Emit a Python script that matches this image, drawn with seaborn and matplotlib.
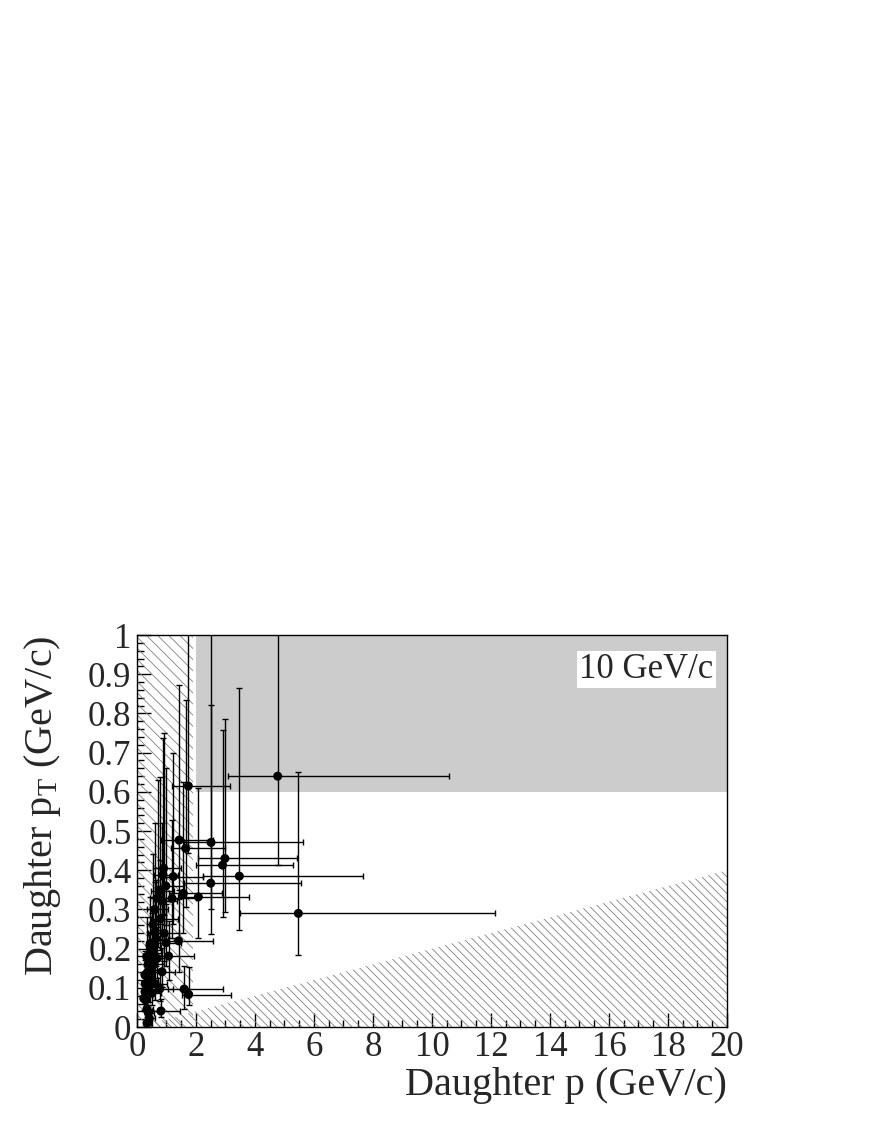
import matplotlib
matplotlib.use("Agg")
import matplotlib.pyplot as plt
import seaborn as sns
import pandas as pd

# daughter momentum p and transverse momentum pT (GeV/c), with asymmetric errors
p = [4.77, 1.74, 5.47, 3.47, 2.98, 2.90, 2.51, 2.50, 2.08, 1.43,
     1.65, 1.23, 0.90, 0.88, 0.98, 0.77, 1.57, 1.19, 0.85, 0.79,
     0.61, 0.92, 1.41, 0.98, 0.50, 1.07, 0.69, 0.50, 0.85, 0.27,
     1.60, 1.75, 0.77, 0.50, 0.27, 0.29, 0.81, 0.38, 0.34, 0.42,
     0.45, 0.52, 0.40, 0.36, 0.28, 0.40, 0.23, 0.34, 0.60, 0.55,
     0.70, 0.65, 0.47, 0.58, 0.33, 0.62]
pt = [0.640, 0.615, 0.290, 0.385, 0.430, 0.413, 0.471, 0.367, 0.332, 0.477,
      0.456, 0.384, 0.405, 0.388, 0.360, 0.348, 0.341, 0.328, 0.321, 0.276,
      0.241, 0.239, 0.220, 0.215, 0.205, 0.181, 0.175, 0.145, 0.141, 0.133,
      0.097, 0.083, 0.097, 0.086, 0.090, 0.069, 0.041, 0.037, 0.010, 0.022,
      0.213, 0.190, 0.162, 0.140, 0.111, 0.095, 0.073, 0.045, 0.300, 0.262,
      0.330, 0.225, 0.120, 0.160, 0.180, 0.110]
p_lo = [1.70, 0.54, 1.97, 1.23, 0.92, 0.90, 0.90, 0.90, 0.70, 0.60,
        0.50, 0.40, 0.35, 0.30, 0.35, 0.30, 0.50, 0.45, 0.30, 0.30,
        0.25, 0.30, 0.50, 0.30, 0.20, 0.40, 0.25, 0.20, 0.30, 0.10,
        0.55, 0.24, 0.25, 0.20, 0.10, 0.10, 0.30, 0.12, 0.10, 0.12,
        0.15, 0.20, 0.15, 0.12, 0.10, 0.15, 0.08, 0.12, 0.25, 0.20,
        0.25, 0.25, 0.15, 0.20, 0.12, 0.22]
p_hi = [5.82, 1.41, 6.67, 4.20, 2.43, 2.40, 3.11, 3.05, 1.72, 1.15,
        1.35, 1.02, 0.60, 0.50, 0.60, 0.50, 1.30, 0.80, 0.50, 0.60,
        0.40, 0.50, 1.18, 0.50, 0.30, 0.86, 0.40, 0.30, 0.45, 0.15,
        1.33, 1.44, 0.45, 0.30, 0.15, 0.15, 0.65, 0.20, 0.15, 0.20,
        0.25, 0.30, 0.25, 0.20, 0.15, 0.25, 0.12, 0.20, 0.45, 0.35,
        0.45, 0.40, 0.25, 0.35, 0.20, 0.40]
pt_lo = [0.227, 0.170, 0.105, 0.138, 0.136, 0.132, 0.170, 0.130, 0.104, 0.150,
         0.150, 0.120, 0.120, 0.100, 0.100, 0.100, 0.100, 0.100, 0.100, 0.080,
         0.070, 0.070, 0.080, 0.060, 0.060, 0.060, 0.050, 0.040, 0.040, 0.040,
         0.050, 0.027, 0.030, 0.030, 0.030, 0.020, 0.015, 0.015, 0.005, 0.010,
         0.070, 0.060, 0.050, 0.050, 0.040, 0.030, 0.030, 0.020, 0.090, 0.080,
         0.100, 0.070, 0.040, 0.050, 0.060, 0.040]
pt_hi = [0.450, 0.450, 0.361, 0.480, 0.355, 0.344, 0.350, 0.650, 0.278, 0.395,
         0.378, 0.316, 0.345, 0.350, 0.300, 0.290, 0.285, 0.200, 0.200, 0.150,
         0.130, 0.120, 0.130, 0.100, 0.100, 0.090, 0.080, 0.070, 0.060, 0.060,
         0.060, 0.071, 0.050, 0.040, 0.040, 0.030, 0.030, 0.020, 0.010, 0.020,
         0.120, 0.100, 0.080, 0.070, 0.060, 0.050, 0.040, 0.030, 0.220, 0.180,
         0.300, 0.150, 0.060, 0.090, 0.100, 0.070]

# cut regions
accept_p = [2, 20]
accept_pt = [0.6, 1.0]
low_p_cut = [0, 1.9]
wedge_p = [0, 20]
wedge_pt = [0, 0.4]
label_text = "10 GeV/c"

df = pd.DataFrame({"p": p, "pt": pt})

sns.set_style("ticks")
plt.rcParams["font.family"] = ["Liberation Serif", "DejaVu Serif"]
plt.rcParams["mathtext.fontset"] = "custom"
plt.rcParams["mathtext.rm"] = "Liberation Serif"
plt.rcParams["mathtext.it"] = "Liberation Serif:italic"
plt.rcParams["hatch.linewidth"] = 0.6

fig = plt.figure(figsize=(8.72, 11.28), dpi=100)
ax = fig.add_axes([0.1571, 0.0895, 0.6766, 0.3475])

ax.fill_between(accept_p, accept_pt[0], accept_pt[1], color="#cccccc", lw=0, zorder=1)
ax.fill_between(low_p_cut, 0, 1, facecolor="none", edgecolor="0.5", hatch="\\\\\\",
                lw=0, zorder=1)
ax.fill_between(wedge_p, 0, wedge_pt, facecolor="none", edgecolor="0.5",
                hatch="\\\\\\\\", lw=0, zorder=1)

ax.errorbar(df["p"], df["pt"], xerr=[p_lo, p_hi], yerr=[pt_lo, pt_hi], fmt="none",
            ecolor="black", elinewidth=1.0, capsize=2, capthick=1.0, zorder=2)
sns.scatterplot(data=df, x="p", y="pt", ax=ax, color="black", s=42,
                edgecolor="none", zorder=3)

ax.text(19.55, 0.913, label_text, fontsize=25, ha="right", va="center", zorder=4,
        bbox=dict(facecolor="white", edgecolor="none", pad=1.5))

ax.set_xlim(0, 20)
ax.set_ylim(0, 1)
ax.set_xticks(range(0, 21, 2))
ax.set_xticks([i * 0.5 for i in range(41)], minor=True)
ax.set_yticks([i / 10 for i in range(11)])
ax.set_yticklabels(["0"] + [f"{i / 10:g}" for i in range(1, 10)] + ["1"])
ax.set_yticks([i / 50 for i in range(51)], minor=True)
ax.tick_params(which="both", direction="in", top=False, right=False, labelsize=25,
               width=1, color="black")
ax.tick_params(which="major", length=10)
ax.tick_params(which="minor", length=5)
ax.tick_params(axis="y", pad=4)
ax.tick_params(axis="x", pad=3)
for s in ax.spines.values():
    s.set_visible(True)
    s.set_color("black")
    s.set_linewidth(1)

ax.set_xlabel("Daughter p (GeV/c)", fontsize=29, loc="right", labelpad=2)
ax.set_ylabel(r"Daughter p$_{\mathrm{T}}$ (GeV/c)", fontsize=29, loc="top", labelpad=18)

fig.savefig("out.png", dpi=100)
